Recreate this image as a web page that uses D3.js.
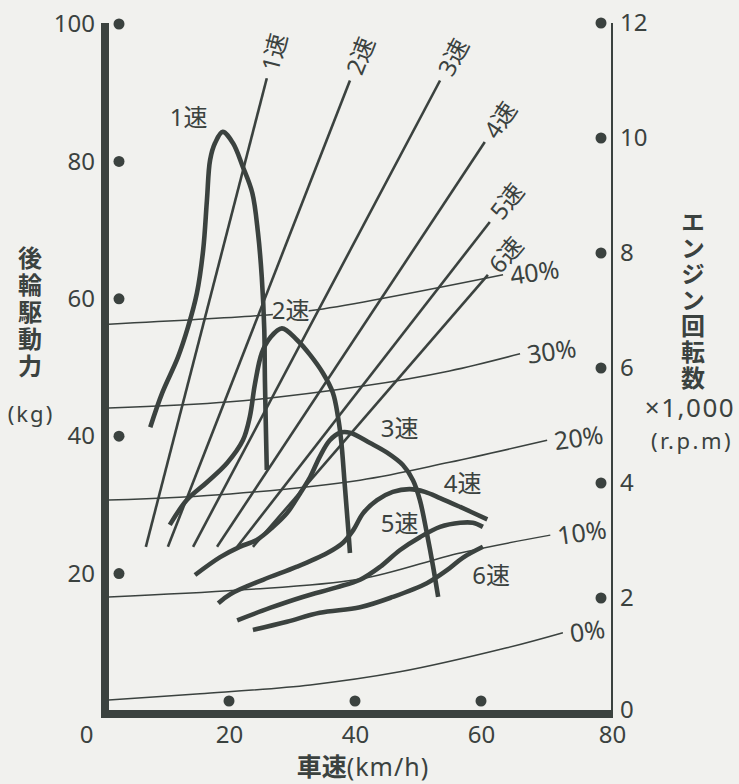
<!DOCTYPE html>
<html><head><meta charset="utf-8">
<script src="https://cdn.jsdelivr.net/npm/d3@7"></script>
<style>body{margin:0;background:#f1f1ee}svg{display:block}</style>
</head><body><svg id="c" width="739" height="784"></svg>
<script>
// ---------- data ----------
const speedTicks = [0, 20, 40, 60, 80];
const forceTicks = [20, 40, 60, 80, 100];
const rpmTicks = [0, 2, 4, 6, 8, 10, 12];
const speedDots = [20, 40, 60];
const forceDots = [20, 40, 60, 80, 100];
const rpmDots = [2, 4, 6, 8, 10, 12];

// grade resistance curves [speed km/h, force kg]
const gradeNames = ["0%", "10%", "20%", "30%", "40%"];
const grade0  = [[0.9,1.6],[15.4,2.5],[32.9,3.8],[47.1,5.7],[64.1,9.2],[73.0,11.4]];
const grade10 = [[0.9,16.6],[21.7,17.6],[40.8,19.2],[56.7,23.0],[71.0,25.6]];
const grade20 = [[0.9,30.7],[20.2,31.6],[40.8,33.6],[55.0,36.2],[70.5,39.4]];
const grade30 = [[0.9,44.1],[20.2,45.0],[41.3,47.3],[55.0,49.5],[66.2,52.0]];
const grade40 = [[0.9,56.3],[25.4,57.6],[34.0,58.4],[63.5,63.5]];

// engine speed lines per gear (speed km/h, rpm x1000)
const gearNames = ["1速", "2速", "3速", "4速", "5速", "6速"];
const gearStartSpeed = [6.8, 10.3, 14.3, 18.1, 21.3, 23.8];
const gearStartRpm   = [2.89, 2.89, 2.89, 2.89, 2.89, 2.89];
const gearEndSpeed   = [26.0, 39.2, 53.5, 60.6, 61.4, 61.1];
const gearEndRpm     = [11.04, 11.0, 11.0, 9.93, 8.54, 7.62];

// rear wheel driving force per gear [speed km/h, force kg]
const force1 = [[7.5,41.3],[9.4,46.3],[11.9,51.5],[13.5,55.9],[14.9,60.8],[15.9,67.1],[16.5,74.4],[17.0,80.2],[17.8,82.7],[19.0,84.3],[20.6,82.7],[22.2,79.2],[23.7,75.4],[24.6,69.6],[25.2,63.2],[25.6,55.5],[25.7,48.2],[26.0,35.1]];
const force2 = [[10.6,27.1],[13.3,30.7],[16.5,33.3],[19.7,36.1],[22.2,39.4],[23.3,42.8],[24.1,47.5],[25.2,52.1],[26.5,54.3],[28.4,55.7],[30.8,54.0],[32.9,51.8],[34.9,49.2],[36.5,46.3],[37.3,42.8],[37.8,39.4],[38.4,32.6],[38.9,26.8],[39.2,23.0]];
const force3 = [[14.6,19.8],[18.6,22.4],[21.7,23.9],[24.4,24.9],[27.0,26.8],[29.2,28.8],[31.3,31.7],[32.9,34.1],[34.4,37.0],[36.0,39.4],[37.6,40.5],[39.2,40.5],[42.4,39.0],[45.1,37.6],[47.6,35.8],[49.2,33.6],[50.3,30.7],[51.4,25.9],[52.4,21.0],[53.2,16.6]];
const force4 = [[18.3,15.7],[20.2,17.0],[25.4,19.1],[30.8,21.0],[35.6,23.0],[38.1,24.5],[39.7,26.3],[41.3,28.8],[43.5,30.7],[46.0,31.9],[48.7,32.3],[51.1,31.9],[53.5,31.0],[56.7,29.7],[61.0,27.9]];
const force5 = [[21.3,13.2],[26.5,15.0],[31.7,16.6],[37.1,18.0],[40.8,19.1],[44.0,21.0],[47.1,23.4],[50.3,25.3],[53.5,26.8],[56.7,27.4],[58.7,27.4],[60.3,26.8]];
const force6 = [[23.8,11.8],[29.2,13.0],[34.4,14.3],[40.8,15.1],[46.0,16.6],[51.4,18.6],[54.6,20.5],[57.1,22.3],[60.3,23.9]];
const forceLabelAt = [[13.6,86.6],[29.8,58.4],[47.1,41.3],[57.1,33.2],[47.1,27.5],[61.6,19.9]];

// ---------- drawing ----------
const INK = "#3b423f";
const BG = "#f1f1ee";
const FONT = "'Noto Sans','Noto Sans CJK JP',sans-serif";
const JFONT = "'Noto Sans CJK JP','Noto Sans',sans-serif";
const svg = d3.select("#c");
svg.append("rect").attr("width", 739).attr("height", 784).attr("fill", BG);

const x = d3.scaleLinear().domain([0, 80]).range([103, 607]);
const yF = d3.scaleLinear().domain([0, 100]).range([711, 24]);
const yR = d3.scaleLinear().domain([0, 12]).range([713, 23]);

const smooth = d3.line().x(d => x(d[0])).y(d => yF(d[1])).curve(d3.curveCatmullRom.alpha(0.5));

// grade curves
const grades = [grade0, grade10, grade20, grade30, grade40];
grades.forEach((g, i) => {
  svg.append("path").attr("d", smooth(g)).attr("fill", "none")
    .attr("stroke", INK).attr("stroke-width", 1.5);
  const e = g[g.length - 1];
  svg.append("text").attr("x", x(e[0]) + 7).attr("y", yF(e[1]))
    .attr("transform", `rotate(-8 ${x(e[0]) + 7} ${yF(e[1])})`)
    .attr("dominant-baseline", "central")
    .attr("font-family", FONT).attr("font-size", 25).attr("fill", INK)
    .text(gradeNames[i]);
});

// gear rpm lines
gearNames.forEach((n, i) => {
  const x1 = x(gearStartSpeed[i]), y1 = yR(gearStartRpm[i]);
  const x2 = x(gearEndSpeed[i]), y2 = yR(gearEndRpm[i]);
  svg.append("line").attr("x1", x1).attr("y1", y1).attr("x2", x2).attr("y2", y2)
    .attr("stroke", INK).attr("stroke-width", 2.6);
  const len = Math.hypot(x2 - x1, y2 - y1);
  const ux = (x2 - x1) / len, uy = (y2 - y1) / len;
  const ang = Math.atan2(uy, ux) * 180 / Math.PI;
  const lx = x2 + ux * 8, ly = y2 + uy * 8;
  svg.append("text").attr("x", lx).attr("y", ly)
    .attr("transform", `rotate(${ang} ${lx} ${ly})`)
    .attr("dominant-baseline", "central")
    .attr("font-family", FONT).attr("font-size", 24).attr("fill", INK)
    .text(n);
});

// force curves, labels with knockout
const forces = [force1, force2, force3, force4, force5, force6];
const knock = svg.append("g");
forces.forEach((f) => {
  svg.append("path").attr("d", smooth(f)).attr("fill", "none")
    .attr("stroke", INK).attr("stroke-width", 4.6)
    .attr("stroke-linejoin", "round");
});
gearNames.forEach((n, i) => {
  const p = forceLabelAt[i];
  const t = svg.append("text").attr("x", x(p[0])).attr("y", yF(p[1]))
    .attr("text-anchor", "middle").attr("dominant-baseline", "central")
    .attr("font-family", FONT).attr("font-size", 24).attr("fill", INK)
    .text(n);
  const b = t.node().getBBox();
  knock.append("rect").attr("x", b.x + 1).attr("y", b.y + 4)
    .attr("width", b.width - 2).attr("height", b.height - 8).attr("fill", BG);
});

// axes frame
svg.append("line").attr("x1", 105).attr("x2", 105).attr("y1", yF(100) - 1).attr("y2", 718)
  .attr("stroke", INK).attr("stroke-width", 8);
svg.append("line").attr("x1", 101).attr("x2", 613).attr("y1", 714).attr("y2", 714)
  .attr("stroke", INK).attr("stroke-width", 8);
svg.append("line").attr("x1", 612).attr("x2", 612).attr("y1", yR(12)).attr("y2", 718)
  .attr("stroke", INK).attr("stroke-width", 2);

// tick labels via d3 axes
function styleAxis(g) {
  g.select(".domain").remove();
  g.selectAll("line").remove();
  g.selectAll("text").attr("font-family", FONT).attr("font-size", 24).attr("fill", INK);
}
svg.append("g").attr("transform", `translate(${x(0)},0)`)
  .call(d3.axisLeft(yF).tickValues(forceTicks).tickSize(0).tickPadding(8)).call(styleAxis);
svg.append("g").attr("transform", `translate(0,${yF(0)})`)
  .call(d3.axisBottom(x).tickValues(speedTicks).tickSize(0).tickPadding(15)).call(styleAxis)
  .selectAll("text").attr("dx", d => d === 0 ? -17 : d === 80 ? 5 : 0);
svg.append("g").attr("transform", `translate(612,0)`)
  .call(d3.axisRight(yR).tickValues(rpmTicks).tickSize(0).tickPadding(8)).call(styleAxis)
  .selectAll("text").attr("y", d => d === 0 ? -3 : 0);

// tick dots
svg.selectAll(".fd").data(forceDots).enter().append("circle")
  .attr("cx", 119).attr("cy", d => yF(d)).attr("r", 5.5).attr("fill", INK);
svg.selectAll(".sd").data(speedDots).enter().append("circle")
  .attr("cx", d => x(d)).attr("cy", 701).attr("r", 5.5).attr("fill", INK);
svg.selectAll(".rd").data(rpmDots).enter().append("circle")
  .attr("cx", 601).attr("cy", d => yR(d)).attr("r", 5.5).attr("fill", INK);

// axis titles (vertical writing)
svg.append("text").attr("x", 30).attr("y", 246)
  .style("writing-mode", "vertical-rl")
  .attr("font-family", JFONT).attr("font-size", 24).attr("font-weight", "bold")
  .attr("letter-spacing", 3).attr("fill", INK).text("後輪駆動力");
svg.append("text").attr("x", 31).attr("y", 413).attr("text-anchor", "middle")
  .attr("dominant-baseline", "central").attr("font-family", FONT).attr("font-size", 22)
  .attr("letter-spacing", 2).attr("fill", INK).text("(kg)");

svg.append("text").attr("x", 693).attr("y", 210)
  .style("writing-mode", "vertical-rl")
  .attr("font-family", JFONT).attr("font-size", 24).attr("font-weight", "bold")
  .attr("letter-spacing", 2).attr("fill", INK).text("エンジン回転数");
svg.append("text").attr("x", 690).attr("y", 407).attr("text-anchor", "middle")
  .attr("dominant-baseline", "central").attr("font-family", FONT).attr("font-size", 26)
  .attr("letter-spacing", 1.5).attr("fill", INK).text("×1,000");
svg.append("text").attr("x", 692).attr("y", 440).attr("text-anchor", "middle")
  .attr("dominant-baseline", "central").attr("font-family", FONT).attr("font-size", 22)
  .attr("letter-spacing", 2.5).attr("fill", INK).text("(r.p.m)");

const xt = svg.append("text").attr("x", 363).attr("y", 776).attr("text-anchor", "middle")
  .attr("font-family", FONT).attr("font-size", 25).attr("fill", INK);
xt.append("tspan").attr("font-weight", "bold").text("車速");
xt.append("tspan").attr("letter-spacing", 1).text("(km/h)");
</script></body></html>
